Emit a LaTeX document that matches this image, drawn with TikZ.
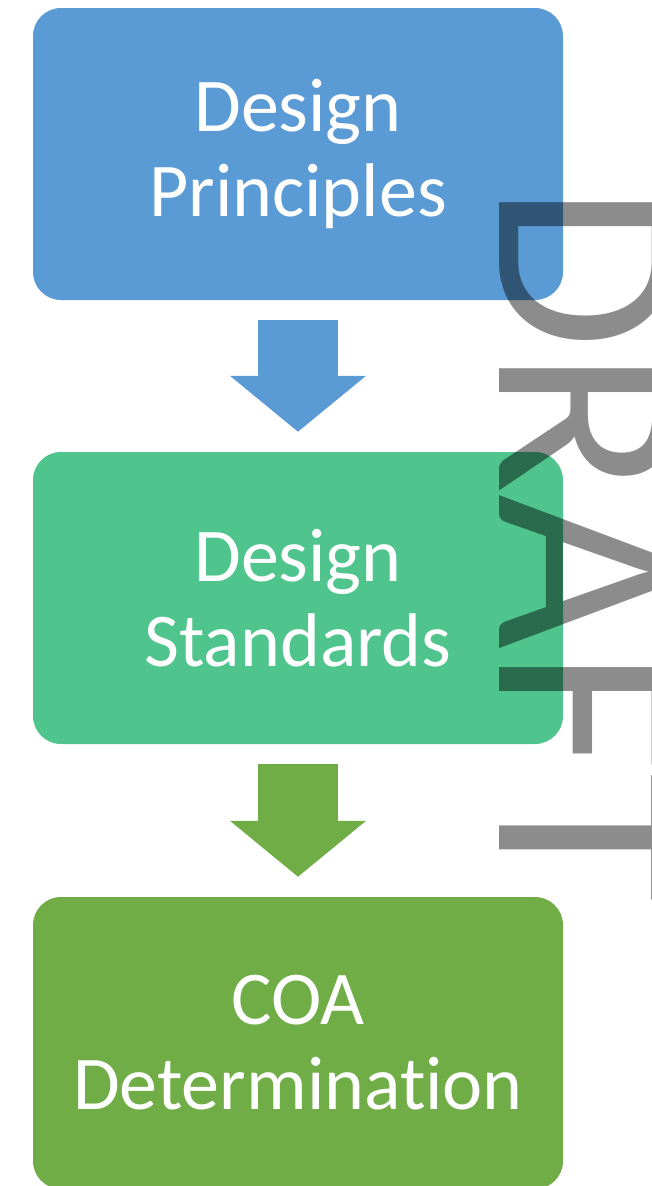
\documentclass[tikz,border=0pt]{standalone}
\usepackage{fontspec}
\setmainfont{Carlito}[Ligatures={NoCommon,NoRare}]
\usetikzlibrary{arrows.meta}
\definecolor{boxblue}{HTML}{5B9BD5}
\definecolor{boxteal}{HTML}{4FC48D}
\definecolor{boxgreen}{HTML}{70AD47}
\begin{document}
\begin{tikzpicture}[x=1pt,y=-1pt,
        flow/.style={line width=80pt,-{Triangle[length=56pt,width=133pt]}}]
        \useasboundingbox (0,0) rectangle (651,1186);
        \clip (0,0) rectangle (651,1186);
        \begin{scope}[every node/.style={rounded corners=28pt,text=white,
                        minimum width=530pt,minimum height=292pt,align=center,
                        font=\fontsize{76}{85}\selectfont}]
            \node (P) at (298,154) [fill=boxblue]{Design\\Principles};
            \node (S) at (298,598) [fill=boxteal]{Design\\Standards};
            \node (C) at (298,1043) [fill=boxgreen]{COA\\Determination};
        \end{scope}

        \draw[flow,boxblue] ([yshift=-20pt]P.south) -- ([yshift=20pt]S.north);
        \draw[flow,boxgreen] ([yshift=-20pt]S.south) -- ([yshift=20pt]C.north);

        % watermark
        \node (W) at (499,184) [rotate=-90,anchor=base west,inner sep=0pt,
            text=black,text opacity=0.45,font=\fontsize{268}{268}\selectfont]{DRAFT};
    \end{tikzpicture}
\end{document}
